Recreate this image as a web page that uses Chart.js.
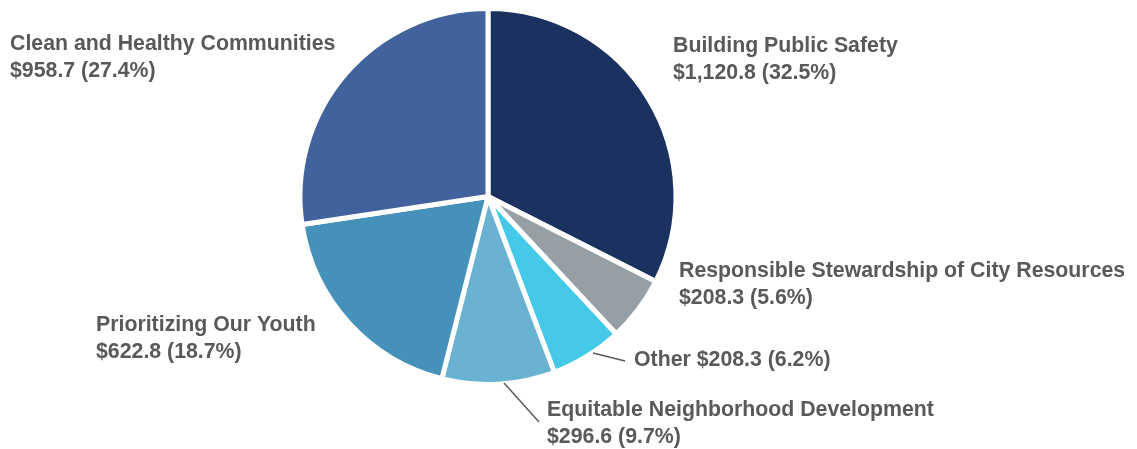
<!DOCTYPE html>
<html>
<head>
<meta charset="utf-8">
<script src="https://cdn.jsdelivr.net/npm/chart.js@4/dist/chart.umd.min.js"></script>
<style>
  html, body { margin: 0; padding: 0; background: #ffffff; }
  #wrap { width: 1137px; height: 449px; }
</style>
</head>
<body>
<div id="wrap"><canvas id="myChart" width="1137" height="449"></canvas></div>
<script>
// budget categories, clockwise from 12 o'clock
var categories = [
  "Building Public Safety",
  "Responsible Stewardship of City Resources",
  "Other",
  "Equitable Neighborhood Development",
  "Prioritizing Our Youth",
  "Clean and Healthy Communities"
];
var amounts = ["$1,120.8", "$208.3", "$208.3", "$296.6", "$622.8", "$958.7"];
var percents = [32.5, 5.6, 6.2, 9.7, 18.7, 27.4];

var colors = ["#1b3160", "#969ea6", "#44c9e8", "#6ab2d1", "#4691b9", "#41629c"];

// where each label goes: [x, y of first line, two lines?, leader line]
var labelLayout = [
  { x: 673, y: 46, split: true },
  { x: 679, y: 271, split: true },
  { x: 634, y: 360, split: false, line: [593, 353, 625, 361] },
  { x: 547, y: 410, split: true, line: [504, 383, 539, 422] },
  { x: 96, y: 325, split: true },
  { x: 10, y: 44, split: true }
];

var labelPlugin = {
  id: "sliceLabels",
  afterDraw: function (chart) {
    var ctx = chart.ctx;
    ctx.save();
    ctx.fillStyle = "#595959";
    ctx.strokeStyle = "#595959";
    ctx.lineWidth = 1.5;
    ctx.font = "bold 21.3px 'Liberation Sans', Arial, sans-serif";
    ctx.textBaseline = "middle";
    ctx.textAlign = "left";
    for (var i = 0; i < categories.length; i++) {
      var l = labelLayout[i];
      var value = amounts[i] + " (" + percents[i].toFixed(1) + "%)";
      if (l.split) {
        ctx.fillText(categories[i], l.x, l.y);
        ctx.fillText(value, l.x, l.y + 27);
      } else {
        ctx.fillText(categories[i] + " " + value, l.x, l.y);
      }
      if (l.line) {
        ctx.beginPath();
        ctx.moveTo(l.line[0], l.line[1]);
        ctx.lineTo(l.line[2], l.line[3]);
        ctx.stroke();
      }
    }
    ctx.restore();
  }
};

var ctx = document.getElementById("myChart").getContext("2d");
var myPieChart = new Chart(ctx, {
  type: "pie",
  data: {
    labels: categories,
    datasets: [
      {
        data: percents,
        backgroundColor: colors,
        borderColor: "#ffffff",
        borderWidth: 5,
        radius: 188
      }
    ]
  },
  options: {
    responsive: false,
    animation: false,
    layout: { padding: { top: 5, bottom: 61, left: 100, right: 261 } },
    plugins: {
      legend: { display: false },
      tooltip: { enabled: false }
    }
  },
  plugins: [labelPlugin]
});
</script>
</body>
</html>
